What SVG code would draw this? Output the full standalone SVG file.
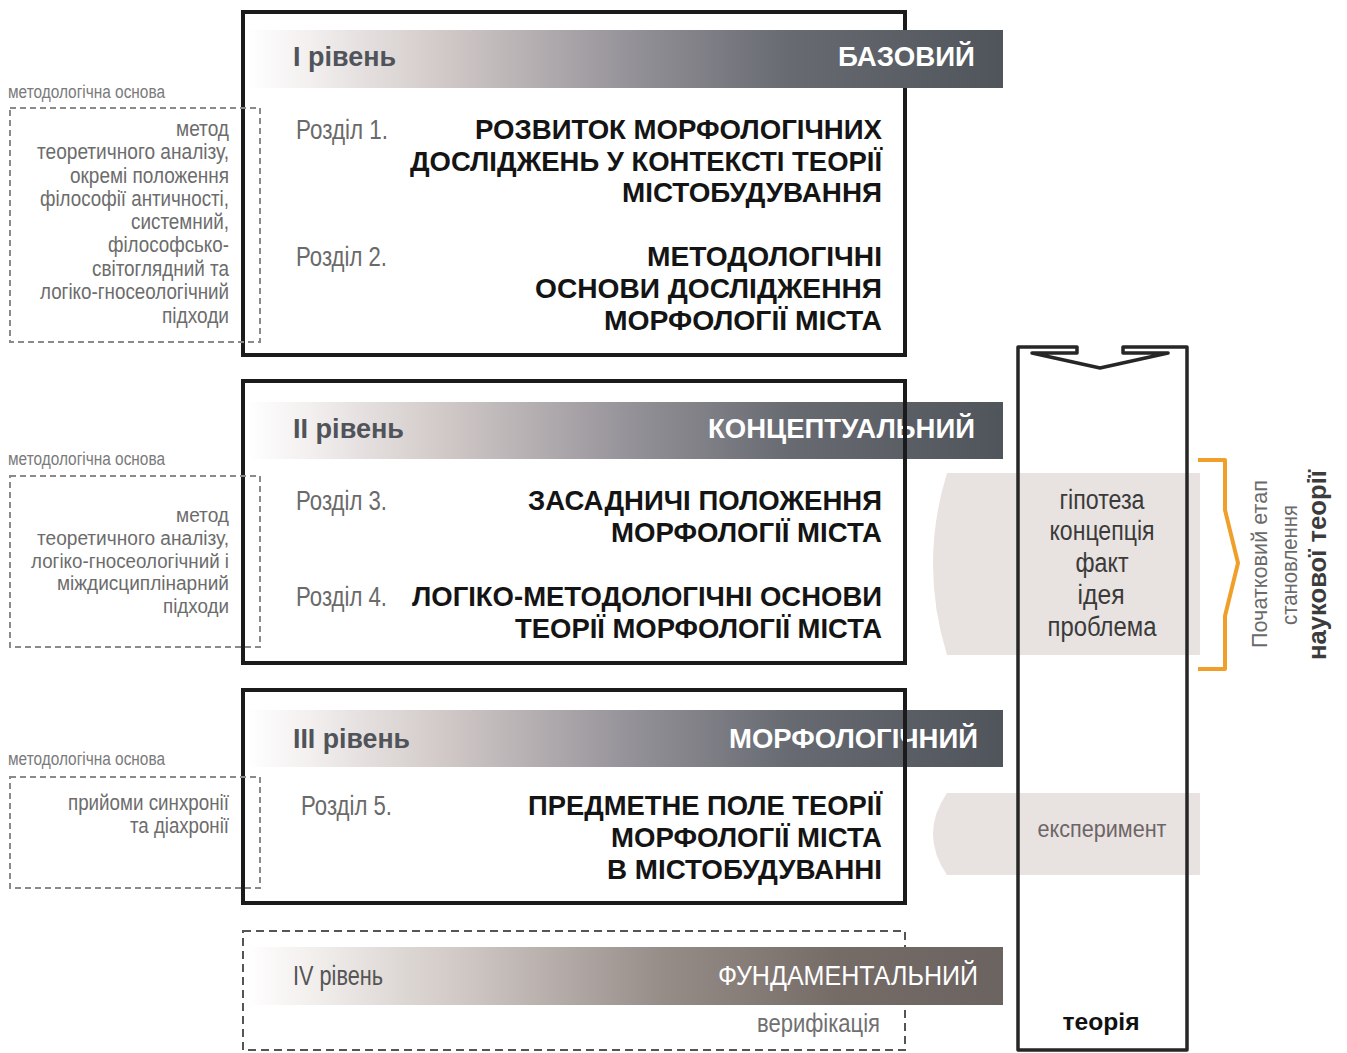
<svg xmlns="http://www.w3.org/2000/svg" width="1347" height="1053" viewBox="0 0 1347 1053">
<defs>
<linearGradient id="gDark" gradientUnits="userSpaceOnUse" x1="247" y1="0" x2="1003" y2="0">
<stop offset="0" stop-color="#ffffff"/>
<stop offset="0.08" stop-color="#f3f0ef"/>
<stop offset="0.28" stop-color="#cdc5c4"/>
<stop offset="0.5" stop-color="#96939a"/>
<stop offset="0.72" stop-color="#676a71"/>
<stop offset="1" stop-color="#50545b"/>
</linearGradient>
<linearGradient id="gBrown" gradientUnits="userSpaceOnUse" x1="247" y1="0" x2="1003" y2="0">
<stop offset="0" stop-color="#ffffff"/>
<stop offset="0.08" stop-color="#f3f0ee"/>
<stop offset="0.3" stop-color="#cdc5c1"/>
<stop offset="0.55" stop-color="#968d89"/>
<stop offset="0.78" stop-color="#756c68"/>
<stop offset="1" stop-color="#6b635f"/>
</linearGradient>
<style>
text{font-family:"Liberation Sans",Arial,sans-serif}
.box{fill:none;stroke:#1b1b1b;stroke-width:4}
.dbox{fill:none;stroke:#8a8a8a;stroke-width:2;stroke-dasharray:6 4}
.title{font-size:28px;font-weight:bold;fill:#141414;text-anchor:end}
.lvl{font-size:27px;font-weight:bold;fill:#50545a}
.lvlw{font-size:27px;font-weight:bold;fill:#ffffff;text-anchor:end}
.sec{font-size:27px;fill:#6a6a6a}
.side{font-size:22px;fill:#6c6c6c;text-anchor:end}
.side2{font-size:20px;fill:#6c6c6c;text-anchor:end}
.lbl{font-size:18px;fill:#7a7a7a}
.col{font-size:27px;fill:#3a3a3a;text-anchor:middle}
.band{fill:#e8e2e0}
</style>
</defs>
<rect width="1347" height="1053" fill="#ffffff"/>

<!-- right-side gray arrow bands -->
<g id="bands">
<path class="band" d="M947,473 L1200,473 L1200,655 L947,655 Q919,564 947,473 Z"/>
<path class="band" d="M947,793 L1200,793 L1200,875 L947,875 Q919,834 947,793 Z"/>
</g>

<!-- Level I -->
<g id="level1">
<rect class="box" x="243" y="12" width="662" height="343"/>
<rect x="247" y="30" width="756" height="58" fill="url(#gDark)"/>
<text class="lvl" x="293" y="66" textLength="103" lengthAdjust="spacingAndGlyphs">I рівень</text>
<text class="lvlw" x="975" y="66" textLength="137" lengthAdjust="spacingAndGlyphs">БАЗОВИЙ</text>
<text class="sec" x="296" y="139" textLength="92" lengthAdjust="spacingAndGlyphs">Розділ 1.</text>
<text class="title" x="882" y="139" textLength="407" lengthAdjust="spacingAndGlyphs">РОЗВИТОК МОРФОЛОГІЧНИХ</text>
<text class="title" x="882" y="171" textLength="472" lengthAdjust="spacingAndGlyphs">ДОСЛІДЖЕНЬ У КОНТЕКСТІ ТЕОРІЇ</text>
<text class="title" x="882" y="202" textLength="260" lengthAdjust="spacingAndGlyphs">МІСТОБУДУВАННЯ</text>
<text class="sec" x="296" y="266" textLength="91" lengthAdjust="spacingAndGlyphs">Розділ 2.</text>
<text class="title" x="882" y="266" textLength="235" lengthAdjust="spacingAndGlyphs">МЕТОДОЛОГІЧНІ</text>
<text class="title" x="882" y="298" textLength="347" lengthAdjust="spacingAndGlyphs">ОСНОВИ ДОСЛІДЖЕННЯ</text>
<text class="title" x="882" y="330" textLength="278" lengthAdjust="spacingAndGlyphs">МОРФОЛОГІЇ МІСТА</text>
</g>

<!-- Level II -->
<g id="level2">
<rect x="247" y="402" width="756" height="57" fill="url(#gDark)"/>
<text class="lvl" x="293" y="438" textLength="111" lengthAdjust="spacingAndGlyphs">II рівень</text>
<text class="lvlw" x="975" y="438" textLength="267" lengthAdjust="spacingAndGlyphs">КОНЦЕПТУАЛЬНИЙ</text>
<rect class="box" x="243" y="381" width="662" height="282"/>
<text class="sec" x="296" y="510" textLength="91" lengthAdjust="spacingAndGlyphs">Розділ 3.</text>
<text class="title" x="882" y="510" textLength="354" lengthAdjust="spacingAndGlyphs">ЗАСАДНИЧІ ПОЛОЖЕННЯ</text>
<text class="title" x="882" y="542" textLength="271" lengthAdjust="spacingAndGlyphs">МОРФОЛОГІЇ МІСТА</text>
<text class="sec" x="296" y="606" textLength="91" lengthAdjust="spacingAndGlyphs">Розділ 4.</text>
<text class="title" x="882" y="606" textLength="470" lengthAdjust="spacingAndGlyphs">ЛОГІКО-МЕТОДОЛОГІЧНІ ОСНОВИ</text>
<text class="title" x="882" y="638" textLength="367" lengthAdjust="spacingAndGlyphs">ТЕОРІЇ МОРФОЛОГІЇ МІСТА</text>
</g>

<!-- Level III -->
<g id="level3">
<rect x="247" y="710" width="756" height="57" fill="url(#gDark)"/>
<text class="lvl" x="293" y="748" textLength="117" lengthAdjust="spacingAndGlyphs">III рівень</text>
<text class="lvlw" x="978" y="748" textLength="249" lengthAdjust="spacingAndGlyphs">МОРФОЛОГІЧНИЙ</text>
<rect class="box" x="243" y="690" width="662" height="213"/>
<text class="sec" x="301" y="815" textLength="91" lengthAdjust="spacingAndGlyphs">Розділ 5.</text>
<text class="title" x="882" y="815" textLength="354" lengthAdjust="spacingAndGlyphs">ПРЕДМЕТНЕ ПОЛЕ ТЕОРІЇ</text>
<text class="title" x="882" y="847" textLength="271" lengthAdjust="spacingAndGlyphs">МОРФОЛОГІЇ МІСТА</text>
<text class="title" x="882" y="879" textLength="275" lengthAdjust="spacingAndGlyphs">В МІСТОБУДУВАННІ</text>
</g>

<!-- Level IV -->
<g id="level4">
<rect x="243" y="931" width="662" height="119" fill="none" stroke="#555555" stroke-width="2" stroke-dasharray="8 5"/>
<rect x="247" y="947" width="756" height="58" fill="url(#gBrown)"/>
<text x="293" y="985" font-size="27" fill="#555555" textLength="90" lengthAdjust="spacingAndGlyphs">IV рівень</text>
<text x="978" y="985" font-size="27" fill="#ffffff" text-anchor="end" textLength="260" lengthAdjust="spacingAndGlyphs">ФУНДАМЕНТАЛЬНИЙ</text>
<text x="880" y="1032" font-size="25" fill="#707070" text-anchor="end" textLength="123" lengthAdjust="spacingAndGlyphs">верифікація</text>
</g>

<!-- methodological basis boxes -->
<g id="method1">
<text class="lbl" x="8" y="98" textLength="157" lengthAdjust="spacingAndGlyphs">методологічна основа</text>
<rect class="dbox" x="10" y="108" width="250" height="234"/>
<text class="side" x="229" y="136" textLength="53" lengthAdjust="spacingAndGlyphs">метод</text>
<text class="side" x="229" y="159" textLength="192" lengthAdjust="spacingAndGlyphs">теоретичного аналізу,</text>
<text class="side" x="229" y="183" textLength="159" lengthAdjust="spacingAndGlyphs">окремі положення</text>
<text class="side" x="229" y="206" textLength="189" lengthAdjust="spacingAndGlyphs">філософії античності,</text>
<text class="side" x="229" y="229" textLength="98" lengthAdjust="spacingAndGlyphs">системний,</text>
<text class="side" x="229" y="252" textLength="121" lengthAdjust="spacingAndGlyphs">філософсько-</text>
<text class="side" x="229" y="276" textLength="137" lengthAdjust="spacingAndGlyphs">світоглядний та</text>
<text class="side" x="229" y="299" textLength="189" lengthAdjust="spacingAndGlyphs">логіко-гносеологічний</text>
<text class="side" x="229" y="323" textLength="67" lengthAdjust="spacingAndGlyphs">підходи</text>
</g>
<g id="method2">
<text class="lbl" x="8" y="465" textLength="157" lengthAdjust="spacingAndGlyphs">методологічна основа</text>
<rect class="dbox" x="10" y="476" width="250" height="171"/>
<text class="side2" x="229" y="522" textLength="53" lengthAdjust="spacingAndGlyphs">метод</text>
<text class="side2" x="229" y="545" textLength="192" lengthAdjust="spacingAndGlyphs">теоретичного аналізу,</text>
<text class="side2" x="229" y="567.5" textLength="198" lengthAdjust="spacingAndGlyphs">логіко-гносеологічний і</text>
<text class="side2" x="229" y="590" textLength="172" lengthAdjust="spacingAndGlyphs">міждисциплінарний</text>
<text class="side2" x="229" y="612.5" textLength="66" lengthAdjust="spacingAndGlyphs">підходи</text>
</g>
<g id="method3">
<text class="lbl" x="8" y="765" textLength="157" lengthAdjust="spacingAndGlyphs">методологічна основа</text>
<rect class="dbox" x="10" y="777" width="250" height="111"/>
<text class="side" x="229" y="810" textLength="161" lengthAdjust="spacingAndGlyphs">прийоми синхронії</text>
<text class="side" x="229" y="833" textLength="99" lengthAdjust="spacingAndGlyphs">та діахронії</text>
</g>

<!-- theory column -->
<g id="column">
<path d="M1018,1050 L1018,347 L1077,347 L1077,353 L1032,353 L1100,368 L1168,353 L1123,353 L1123,347 L1187,347 L1187,1050 Z" fill="none" stroke="#262626" stroke-width="3.5" stroke-linejoin="round"/>
<text class="col" x="1102" y="509" textLength="85" lengthAdjust="spacingAndGlyphs">гіпотеза</text>
<text class="col" x="1102" y="540" textLength="105" lengthAdjust="spacingAndGlyphs">концепція</text>
<text class="col" x="1102" y="572" textLength="53" lengthAdjust="spacingAndGlyphs">факт</text>
<text class="col" x="1101" y="604" textLength="47" lengthAdjust="spacingAndGlyphs">ідея</text>
<text class="col" x="1102" y="636" textLength="109" lengthAdjust="spacingAndGlyphs">проблема</text>
<text x="1102" y="837" font-family="'Open Sans',sans-serif" font-size="24" fill="#6d6567" text-anchor="middle" textLength="129" lengthAdjust="spacingAndGlyphs">експеримент</text>
<text x="1101" y="1030" font-family="'Open Sans',sans-serif" font-size="23" font-weight="bold" fill="#111111" text-anchor="middle" textLength="77" lengthAdjust="spacingAndGlyphs">теорія</text>
</g>

<!-- bracket and caption -->
<g id="stage">
<path d="M1198,460 L1225,460 L1225,510 L1238,563 L1225,616 L1225,669 L1198,669" fill="none" stroke="#f0a02a" stroke-width="4" stroke-linejoin="round"/>
<text transform="translate(1267,564) rotate(-90)" font-size="22" fill="#6a6a6a" text-anchor="middle" textLength="168" lengthAdjust="spacingAndGlyphs">Початковий етап</text>
<text transform="translate(1297,565) rotate(-90)" font-size="22" fill="#6a6a6a" text-anchor="middle" textLength="120" lengthAdjust="spacingAndGlyphs">становлення</text>
<text transform="translate(1326,565) rotate(-90)" font-size="26" font-weight="bold" fill="#3c3c3c" text-anchor="middle" textLength="190" lengthAdjust="spacingAndGlyphs">наукової теорії</text>
</g>
</svg>
